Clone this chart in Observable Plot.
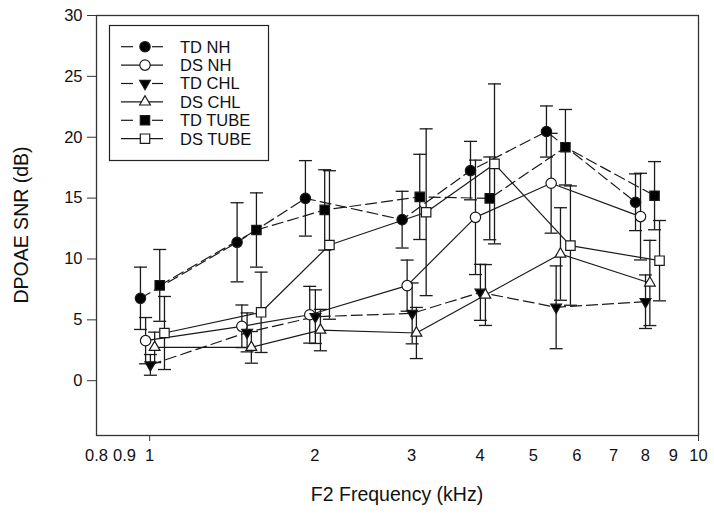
<!DOCTYPE html>
<html><head><meta charset="utf-8">
<script src="https://cdn.jsdelivr.net/npm/d3@7"></script>
<script src="https://cdn.jsdelivr.net/npm/@observablehq/plot@0.6"></script>
<style>body{margin:0;background:#fff;} #chart{width:714px;height:514px;}</style>
</head><body><div id="chart"></div>
<script>
// ---- data ----
const seriesNames = ["TD NH", "DS NH", "TD CHL", "DS CHL", "TD TUBE", "DS TUBE"];
// plotted frequency (kHz) of each point, including the small horizontal offsets seen in the figure
const freqTDNH   = [0.962, 1.443, 1.922, 2.884, 3.842, 5.284, 7.678];
const freqDSNH   = [0.983, 1.472, 1.957, 2.945, 3.923, 5.389, 7.841];
const freqTDCHL  = [1.003, 1.505, 2.004, 3.008, 4.005, 5.503, 8.007];
const freqDSCHL  = [1.021, 1.532, 2.047, 3.062, 4.090, 5.604, 8.154];
const freqTDTUBE = [1.043, 1.565, 2.084, 3.105, 4.165, 5.722, 8.316];
const freqDSTUBE = [1.064, 1.596, 2.126, 3.190, 4.249, 5.843, 8.492];
// mean DPOAE SNR (dB)
const snrTDNH   = [6.77, 11.37, 14.98, 13.23, 17.26, 20.47, 14.66];
const snrDSNH   = [3.29, 4.47, 5.42, 7.81, 13.42, 16.22, 13.48];
const snrTDCHL  = [1.30, 3.97, 5.26, 5.53, 7.26, 6.03, 6.49];
const snrDSCHL  = [2.74, 2.74, 4.16, 3.92, 7.04, 10.41, 8.03];
const snrTDTUBE = [7.83, 12.38, 14.03, 15.10, 14.98, 19.18, 15.20];
const snrDSTUBE = [3.92, 5.62, 11.15, 13.84, 17.81, 11.10, 9.86];
// error bar half-lengths (dB)
const errTDNH   = [2.56, 3.25, 3.10, 2.33, 2.40, 2.10, 2.33];
const errDSNH   = [1.90, 1.75, 2.33, 2.10, 4.70, 4.10, 3.56];
const errTDCHL  = [0.85, 1.60, 2.20, 2.50, 2.30, 3.40, 2.20];
const errDSCHL  = [1.25, 1.30, 1.70, 2.10, 2.50, 3.80, 3.50];
const errTDTUBE = [2.95, 3.05, 3.30, 3.50, 3.40, 3.10, 2.80];
const errDSTUBE = [3.00, 3.30, 6.10, 6.85, 6.57, 4.90, 3.30];
// axis ticks
const xTickLabels = [0.8, 0.9, 1, 2, 3, 4, 5, 6, 7, 8, 9, 10];
const xTickMarks = [1, 10];
const yTicks = [0, 5, 10, 15, 20, 25, 30];

// ---- build table ----
const freqs = [freqTDNH, freqDSNH, freqTDCHL, freqDSCHL, freqTDTUBE, freqDSTUBE];
const snrs = [snrTDNH, snrDSNH, snrTDCHL, snrDSCHL, snrTDTUBE, snrDSTUBE];
const errs = [errTDNH, errDSNH, errTDCHL, errDSCHL, errTDTUBE, errDSTUBE];
const styles = {
  "TD NH":   {symbol: "circle",   fill: "#000", rotate: 0,   r: 5.2, dash: true},
  "DS NH":   {symbol: "circle",   fill: "#fff", rotate: 0,   r: 5.2, dash: false},
  "TD CHL":  {symbol: "triangle", fill: "#000", rotate: 180, r: 4.0, dash: true},
  "DS CHL":  {symbol: "triangle", fill: "#fff", rotate: 0,   r: 4.0, dash: false},
  "TD TUBE": {symbol: "square",   fill: "#000", rotate: 0,   r: 5.3, dash: true},
  "DS TUBE": {symbol: "square",   fill: "#fff", rotate: 0,   r: 5.3, dash: false}
};
const rows = [];
seriesNames.forEach((s, i) => freqs[i].forEach((f, j) => rows.push({series: s, f, v: snrs[i][j], e: errs[i][j]})));

const ink = "#1a1a1a";
const dashArr = "11,5";
const capSymbol = {draw(ctx, size) { const w = Math.sqrt(size / Math.PI); ctx.moveTo(-w, 0); ctx.lineTo(w, 0); }};

const marks = [
  Plot.ruleX(rows, {x: "f", y1: d => d.v - d.e, y2: d => d.v + d.e, stroke: ink, strokeWidth: 1.3}),
  Plot.dot(rows, {x: "f", y: d => d.v + d.e, symbol: capSymbol, r: 6.5, stroke: ink, strokeWidth: 1.3, fill: "none"}),
  Plot.dot(rows, {x: "f", y: d => d.v - d.e, symbol: capSymbol, r: 6.5, stroke: ink, strokeWidth: 1.3, fill: "none"})
];
seriesNames.forEach(s => {
  const st = styles[s];
  const data = rows.filter(d => d.series === s);
  marks.push(Plot.line(data, {x: "f", y: "v", stroke: ink, strokeWidth: 1.2, strokeDasharray: st.dash ? dashArr : null}));
});
seriesNames.forEach(s => {
  const st = styles[s];
  const data = rows.filter(d => d.series === s);
  marks.push(Plot.dot(data, {x: "f", y: "v", symbol: st.symbol, r: st.r, fill: st.fill, stroke: ink, strokeWidth: 1.2, rotate: st.rotate}));
});
marks.push(
  Plot.frame({stroke: "#333", strokeWidth: 1.3}),
  Plot.axisY({ticks: yTicks, tickSize: 9, tickPadding: 5, label: null, fontSize: 16.5, stroke: "#333"}),
  Plot.axisX({ticks: xTickMarks, tickSize: 6, tickFormat: () => "", label: null, stroke: "#333"}),
  Plot.text(xTickLabels, {x: d => d, frameAnchor: "bottom", dy: 25, text: d => String(d), fontSize: 16.5, fill: "#111"})
);

const chart = Plot.plot({
  width: 714, height: 514,
  marginLeft: 96, marginRight: 16, marginTop: 15, marginBottom: 79,
  style: {fontFamily: "'Liberation Sans', Arial, sans-serif", fontSize: "16px", color: "#111", background: "#fff", overflow: "visible"},
  x: {type: "log", domain: [0.8, 10]},
  y: {domain: [-4.5, 30]},
  marks
});
document.getElementById("chart").appendChild(chart);

// ---- titles and legend ----
const svg = d3.select(chart);
svg.append("text").attr("x", 397).attr("y", 501).attr("text-anchor", "middle")
  .attr("font-size", 19.5).attr("fill", "#111").text("F2 Frequency (kHz)");
svg.append("text").attr("transform", "translate(28,225) rotate(-90)").attr("text-anchor", "middle")
  .attr("font-size", 19.5).attr("fill", "#111").text("DPOAE SNR (dB)");

const lg = svg.append("g");
lg.append("rect").attr("x", 109.5).attr("y", 25.5).attr("width", 159).attr("height", 135)
  .attr("fill", "#fff").attr("stroke", "#222").attr("stroke-width", 1.2);
seriesNames.forEach((s, i) => {
  const st = styles[s];
  const y = 46.7 + i * 18.4;
  if (st.dash) {
    lg.append("line").attr("x1", 121).attr("x2", 133).attr("y1", y).attr("y2", y).attr("stroke", ink).attr("stroke-width", 1.2);
    lg.append("line").attr("x1", 152).attr("x2", 163).attr("y1", y).attr("y2", y).attr("stroke", ink).attr("stroke-width", 1.2);
  } else {
    lg.append("line").attr("x1", 121).attr("x2", 163).attr("y1", y).attr("y2", y).attr("stroke", ink).attr("stroke-width", 1.2);
  }
  const sym = {circle: d3.symbolCircle, square: d3.symbolSquare, triangle: d3.symbolTriangle}[st.symbol];
  lg.append("path").attr("d", d3.symbol(sym, st.r * st.r * Math.PI)())
    .attr("transform", `translate(145,${y}) rotate(${st.rotate})`)
    .attr("fill", st.fill).attr("stroke", ink).attr("stroke-width", 1.2);
  lg.append("text").attr("x", 180).attr("y", y).attr("dy", "0.36em").attr("text-anchor", "start")
    .attr("font-size", 16.5).attr("fill", "#111").text(s);
});
</script>
</body></html>
